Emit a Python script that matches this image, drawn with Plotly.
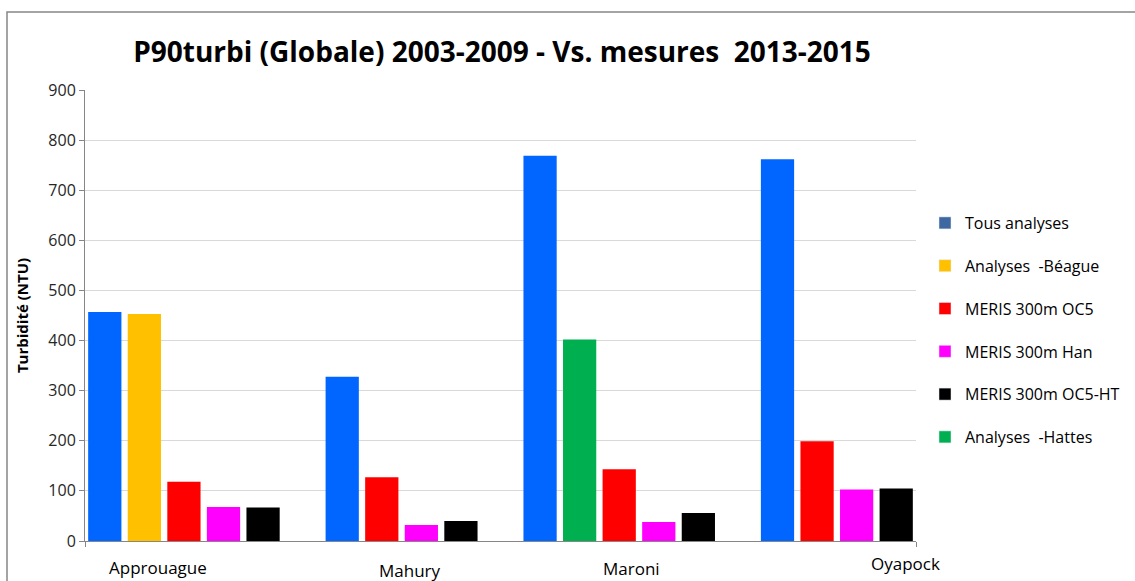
import plotly.graph_objects as go

# ---------------- data ----------------
categories = ["Approuague", "Mahury", "Maroni", "Oyapock"]
series_names = ["Tous analyses", "Analyses  -Béague", "MERIS 300m OC5",
                "MERIS 300m Han", "MERIS 300m OC5-HT", "Analyses  -Hattes"]
tous_analyses = [457, 328, 769, 762]
analyses_beague = [453, None, None, None]
meris_oc5 = [118, 127, 143, 199]
meris_han = [68, 32, 38, 103]
meris_oc5_ht = [67, 40, 56, 105]
analyses_hattes = [None, None, 402, None]

# order of bars inside each category (as drawn)
bar_order = [0, 1, 5, 2, 3, 4]
series_values = [tous_analyses, analyses_beague, meris_oc5, meris_han,
                 meris_oc5_ht, analyses_hattes]
bar_colors = ["#0066FF", "#FFC000", "#FF0000", "#FF00FF", "#000000", "#00B050"]
legend_colors = ["#3F67A0", "#FFC000", "#FF0000", "#FF00FF", "#000000", "#00B050"]

# ---------------- slot layout (one slot per non-empty bar, one empty slot between categories)
slot_x = {i: [] for i in range(len(series_names))}
slot_y = {i: [] for i in range(len(series_names))}
slot = 0
for ci in range(len(categories)):
    for si in bar_order:
        v = series_values[si][ci]
        if v is not None:
            slot_x[si].append(slot)
            slot_y[si].append(v)
            slot += 1
    if ci < len(categories) - 1:
        slot += 1
n_slots = slot

fig = go.Figure()
for si, name in enumerate(series_names):
    fig.add_trace(go.Bar(x=slot_x[si], y=slot_y[si], name=name,
                         marker=dict(color=bar_colors[si], line=dict(width=0)),
                         width=0.84, showlegend=False))
for si, name in enumerate(series_names):
    fig.add_trace(go.Bar(x=[None], y=[None], name=name, legendgroup=name,
                         marker=dict(color=legend_colors[si]), showlegend=True))

W, H = 1135, 581
L, R, T, B = 85, 219, 90, 40
pw, ph = W - L - R, H - T - B

def px_x(p):
    return (p - L) / pw

def px_y(p):
    return (H - B - p) / ph

font = "Open Sans"

# category labels (placed as in reference)
label_px = [(158, 567), (410, 570), (631, 568), (905, 563)]
for cat, (lx, ly) in zip(categories, label_px):
    fig.add_annotation(text=cat, x=px_x(lx), y=px_y(ly), xref="paper", yref="paper",
                       showarrow=False, xanchor="center", yanchor="middle",
                       font=dict(family=font, size=17, color="#000000"))

fig.update_layout(
    width=W, height=H,
    margin=dict(l=L, r=R, t=T, b=B, autoexpand=False),
    plot_bgcolor="white", paper_bgcolor="white",
    barmode="overlay",
    title=dict(text="P90turbi (Globale) 2003-2009 - Vs. mesures \u00a02013-2015",
               xref="container", x=502 / W, xanchor="center",
               yref="container", y=1 - 52 / H, yanchor="middle",
               font=dict(family=font, size=28, color="#000000", weight="bold")),
    xaxis=dict(range=[-0.5, n_slots - 0.5], showgrid=False, zeroline=False,
               showline=True, linecolor="#868686", linewidth=1,
               tickmode="array", tickvals=[-0.5, n_slots - 0.5], ticktext=["", ""],
               ticks="outside", ticklen=5, tickcolor="#868686"),
    yaxis=dict(range=[0, 900], dtick=100, showgrid=True, gridcolor="#D9D9D9",
               zeroline=False, showline=True, linecolor="#868686", linewidth=1,
               ticks="outside", ticklen=5, tickcolor="#868686",
               tickfont=dict(family=font, size=16, color="#262626"),
               title=dict(text="Turbidité (NTU)", standoff=16,
                          font=dict(family=font, size=15, color="#000000", weight="bold"))),
    legend=dict(x=px_x(925), xanchor="left", y=px_y(330), yanchor="middle",
                traceorder="grouped", tracegroupgap=19,
                font=dict(family=font, size=16, color="#000000"),
                bgcolor="rgba(0,0,0,0)"),
    shapes=[dict(type="rect", xref="paper", yref="paper",
                 x0=px_x(7), y0=px_y(620), x1=px_x(1200), y1=px_y(12),
                 line=dict(color="#868686", width=1.5), fillcolor="rgba(0,0,0,0)",
                 layer="below")],
)

fig.write_html("out.html")
